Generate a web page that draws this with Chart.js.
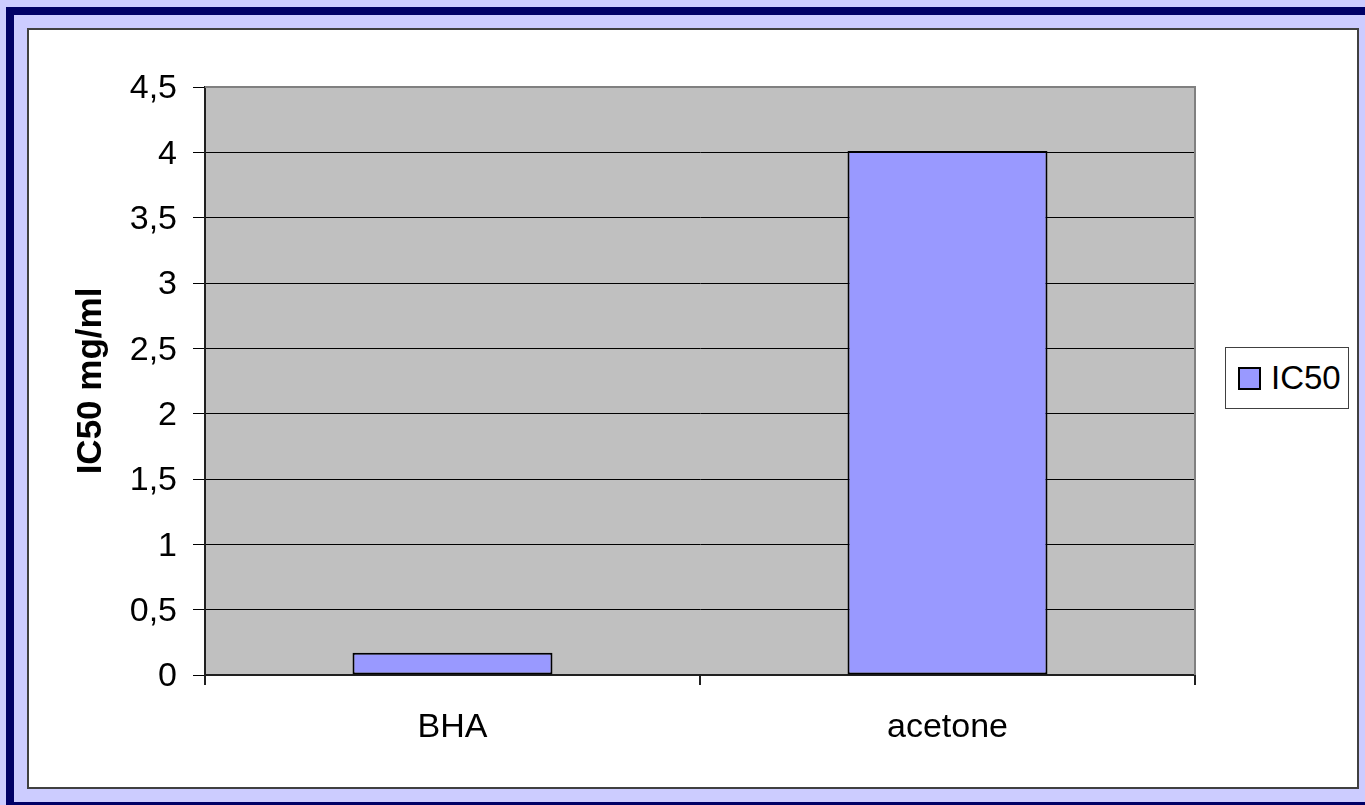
<!DOCTYPE html>
<html>
<head>
    <title>IC50</title>
    <style>
        html, body {
            margin: 0;
            padding: 0;
            width: 1365px;
            height: 805px;
            overflow: hidden;
            background: #ccccff;
            font-family: "Liberation Sans", Arial, sans-serif;
        }

        .frame {
            position: absolute;
            left: 6px;
            top: 7px;
            width: 1400px;
            height: 803px;
            box-sizing: border-box;
            border: 8px solid #000066;
        }

        .panel {
            position: absolute;
            left: 27px;
            top: 28px;
            width: 1332px;
            height: 761px;
            box-sizing: border-box;
            border: 2px solid #404040;
            background: #ffffff;
        }

        #chart {
            position: absolute;
            left: 0;
            top: 0;
        }

        .legend {
            position: absolute;
            left: 1225px;
            top: 347px;
            width: 124px;
            height: 62px;
            box-sizing: border-box;
            border: 1px solid #404040;
            background: #ffffff;
            display: flex;
            align-items: center;
            font-size: 33px;
            color: #000;
        }

        .legend .swatch {
            width: 19px;
            height: 19px;
            margin-left: 12px;
            margin-right: 10px;
            border: 2px solid #000;
        }
    </style>
    <script src="https://cdn.jsdelivr.net/npm/chart.js"></script>
</head>
<body>
    <div class="frame"></div>
    <div class="panel"></div>
    <canvas id="chart" width="1365" height="805"></canvas>
    <div class="legend" id="legend"></div>

    <script>
        // data
        const categories = ['BHA', 'acetone'];
        const ic50 = [0.17, 4.01];
        const yTicks = [0, 0.5, 1, 1.5, 2, 2.5, 3, 3.5, 4, 4.5];

        const seriesLabel = 'IC50';
        const barColor = '#9999ff';

        // gray plot background + gray top/right border
        const plotArea = {
            id: 'plotArea',
            beforeDraw(chart) {
                const a = chart.chartArea;
                const ctx = chart.ctx;
                ctx.save();
                ctx.fillStyle = '#c0c0c0';
                ctx.fillRect(a.left, a.top, a.right - a.left, a.bottom - a.top);
                ctx.restore();
            },
            afterDraw(chart) {
                const a = chart.chartArea;
                const ctx = chart.ctx;
                ctx.save();
                ctx.strokeStyle = '#808080';
                ctx.lineWidth = 2;
                ctx.beginPath();
                ctx.moveTo(a.left, a.top);
                ctx.lineTo(a.right, a.top);
                ctx.lineTo(a.right, a.bottom);
                ctx.stroke();
                ctx.restore();
            }
        };

        const ctx = document.getElementById('chart').getContext('2d');
        const chart = new Chart(ctx, {
            type: 'bar',
            data: {
                labels: categories,
                datasets: [{
                    label: seriesLabel,
                    data: ic50,
                    backgroundColor: barColor,
                    borderColor: '#000000',
                    borderWidth: 2,
                    borderSkipped: false,
                    categoryPercentage: 1,
                    barPercentage: 0.404
                }]
            },
            options: {
                responsive: false,
                animation: false,
                layout: {
                    padding: { top: 87, right: 170, bottom: 0, left: 0 }
                },
                plugins: {
                    legend: { display: false },
                    tooltip: { enabled: false }
                },
                scales: {
                    x: {
                        offset: true,
                        grid: {
                            offset: true,
                            drawOnChartArea: false,
                            tickLength: 10,
                            color: '#202020',
                            lineWidth: 2
                        },
                        border: { color: '#202020', width: 2 },
                        ticks: {
                            color: '#000',
                            padding: 22,
                            font: { family: 'Liberation Sans', size: 34 }
                        },
                        afterFit(scale) { scale.height = 130; }
                    },
                    y: {
                        min: 0,
                        max: 4.5,
                        afterBuildTicks(scale) {
                            scale.ticks = yTicks.map(v => ({ value: v }));
                        },
                        grid: {
                            color: '#000000',
                            lineWidth: 1,
                            tickLength: 12
                        },
                        border: { color: '#202020', width: 2 },
                        ticks: {
                            color: '#000',
                            padding: 16,
                            labelOffset: 2,
                            font: { family: 'Liberation Sans', size: 34 },
                            callback: v => String(v).replace('.', ',')
                        },
                        title: {
                            display: true,
                            text: 'IC50 mg/ml',
                            color: '#000',
                            font: { family: 'Liberation Sans', size: 35, weight: 'bold' },
                            padding: { top: 70, bottom: 70 }
                        },
                        afterFit(scale) { scale.width = 205; }
                    }
                }
            },
            plugins: [plotArea]
        });

        // html legend built from the dataset
        const legend = document.getElementById('legend');
        chart.data.datasets.forEach(ds => {
            const sw = document.createElement('span');
            sw.className = 'swatch';
            sw.style.background = ds.backgroundColor;
            const txt = document.createElement('span');
            txt.textContent = ds.label;
            legend.appendChild(sw);
            legend.appendChild(txt);
        });
    </script>
</body>
</html>
